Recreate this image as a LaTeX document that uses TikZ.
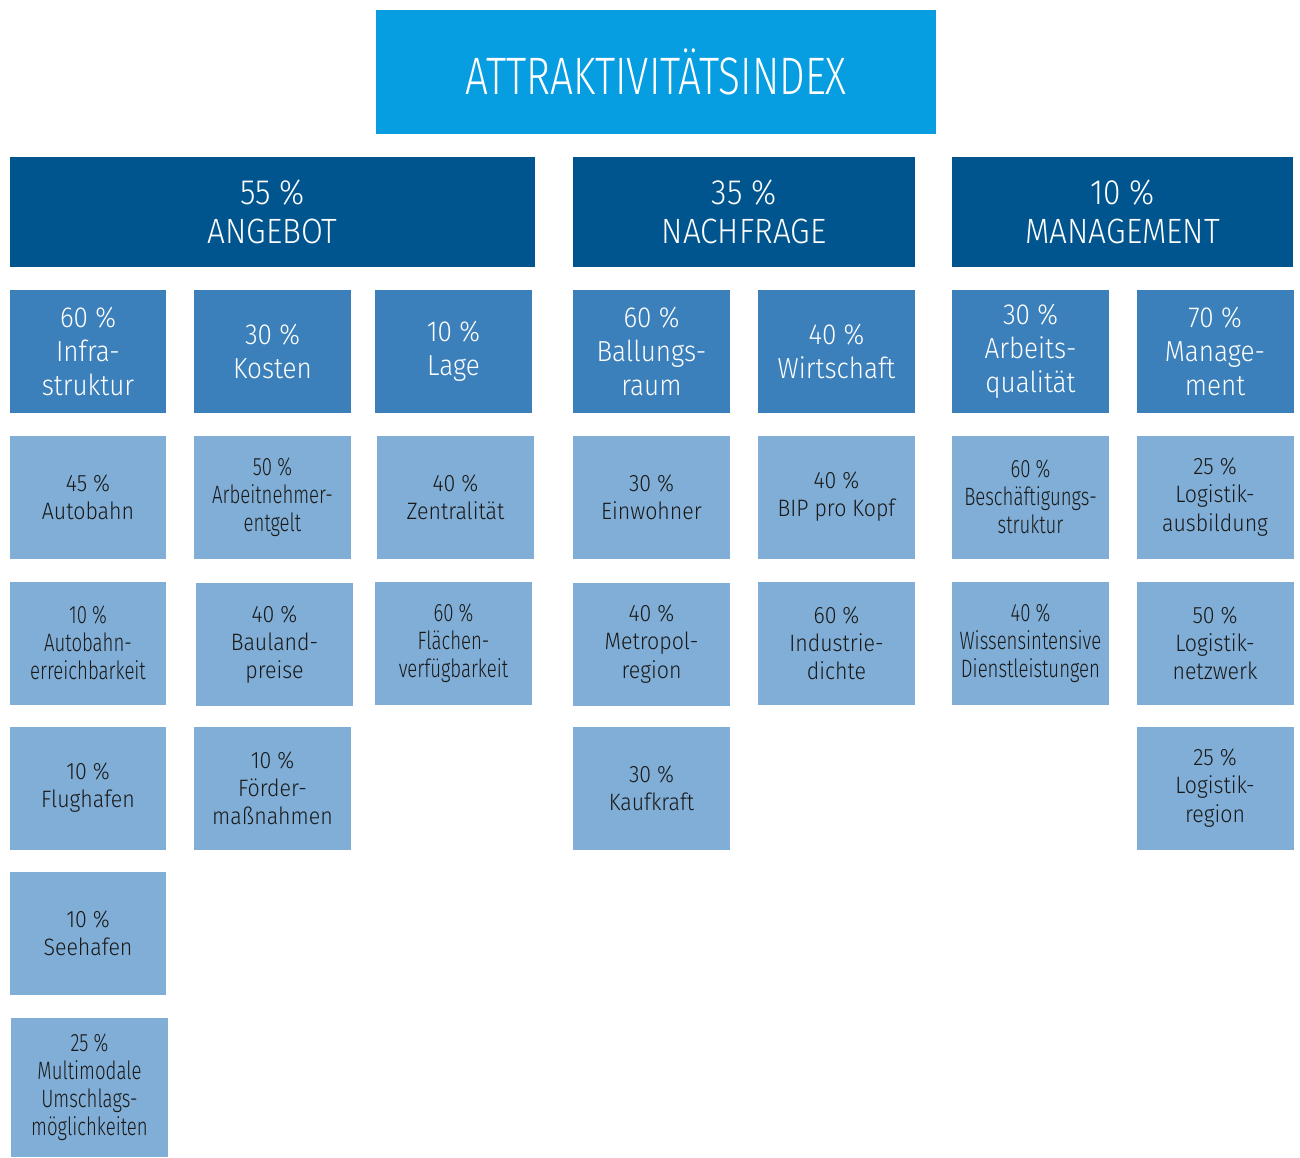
\documentclass[tikz,border=0pt]{standalone}
\usepackage{fontspec}
\setmainfont{Fira Sans}[UprightFont={* Light}, FakeStretch=0.9]
\definecolor{indexblue}{HTML}{079EE1}
\definecolor{darkblue}{HTML}{00558F}
\definecolor{midblue}{HTML}{3B80BA}
\definecolor{lightblue}{HTML}{80AED6}
\begin{document}
\begin{tikzpicture}[x=0.02cm, y=-0.02cm,
	box/.style={inner sep=0pt, align=center, minimum width=3.14cm, minimum height=2.46cm},
	indexbox/.style={box, fill=indexblue, text=white, minimum width=11.2cm, minimum height=2.48cm, font=\fontsize{30}{34}\selectfont\addfontfeature{FakeStretch=0.77}},
	mainbox/.style={box, fill=darkblue, text=white, minimum height=2.2cm, font=\fontsize{20}{22.5}\selectfont},
	subbox/.style={box, fill=midblue, text=white, font=\fontsize{16.5}{19.2}\selectfont},
	leafbox/.style={box, fill=lightblue, text=black!90, font=\fontsize{13.5}{16}\selectfont},
	narrow/.style={font=\fontsize{14.3}{16}\selectfont\addfontfeature{FakeStretch=0.74}}]
	\useasboundingbox (0,0) rectangle (1300,1157);
	\node[indexbox] (index) at (656,72) {ATTRAKTIVITÄTSINDEX};
	% Hauptkriterien
	\node[mainbox, minimum width=10.5cm] (angebot) at (272.5,212) {55 \%\\ANGEBOT};
	\node[mainbox, minimum width=6.84cm] (nachfrage) at (744,212) {35 \%\\NACHFRAGE};
	\node[mainbox, minimum width=6.82cm] (management) at (1122.5,212) {10 \%\\MANAGEMENT};
	% Teilkriterien
	\node[subbox] (infra) at (88,351.5) {60 \%\\Infra-\\struktur};
	\node[subbox] (kosten) at (272.5,351.5) {30 \%\\Kosten};
	\node[subbox] (lage) at (453.5,351.5) {10 \%\\Lage};
	\node[subbox] (ballung) at (651.5,351.5) {60 \%\\Ballungs-\\raum};
	\node[subbox] (wirtschaft) at (836.5,351.5) {40 \%\\Wirtschaft};
	\node[subbox] (arbeit) at (1030.5,351.5) {30 \%\\Arbeits-\\qualität};
	\node[subbox] (manage) at (1215,351.5) {70 \%\\Manage-\\ment};
	% Indikatoren
	\node[leafbox] (autobahn) at (88,497) {45 \%\\Autobahn};
	\node[leafbox, narrow] (erreich) at (88,643) {10 \%\\Autobahn-\\erreichbarkeit};
	\node[leafbox] (flughafen) at (88,788) {10 \%\\Flughafen};
	\node[leafbox] (seehafen) at (88,933) {10 \%\\Seehafen};
	\node[leafbox, narrow, minimum height=2.78cm] (multimodal) at (89.5,1087.5) {25 \%\\Multimodale\\Umschlags-\\möglichkeiten};
	\node[leafbox, narrow] (entgelt) at (272.5,497) {50 \%\\Arbeitnehmer-\\entgelt};
	\node[leafbox] (bauland) at (274.5,644.5) {40 \%\\Bauland-\\preise};
	\node[leafbox] (foerder) at (272.5,788) {10 \%\\Förder-\\maßnahmen};
	\node[leafbox] (zentral) at (455.5,497) {40 \%\\Zentralität};
	\node[leafbox, narrow] (flaeche) at (453.5,643) {60 \%\\Flächen-\\verfügbarkeit};
	\node[leafbox] (einwohner) at (651.5,497) {30 \%\\Einwohner};
	\node[leafbox] (metropol) at (651.5,644) {40 \%\\Metropol-\\region};
	\node[leafbox] (kaufkraft) at (651.5,788) {30 \%\\Kaufkraft};
	\node[leafbox] (bip) at (836.5,497) {40 \%\\BIP pro Kopf};
	\node[leafbox] (industrie) at (836.5,643) {60 \%\\Industrie-\\dichte};
	\node[leafbox, narrow] (beschaeft) at (1030.5,497) {60 \%\\Beschäftigungs-\\struktur};
	\node[leafbox, narrow] (wissen) at (1030.5,643) {40 \%\\Wissensintensive\\Dienstleistungen};
	\node[leafbox] (ausbildung) at (1215,497) {25 \%\\Logistik-\\ausbildung};
	\node[leafbox] (netzwerk) at (1215,643) {50 \%\\Logistik-\\netzwerk};
	\node[leafbox] (logregion) at (1215,788) {25 \%\\Logistik-\\region};
\end{tikzpicture}
\end{document}
